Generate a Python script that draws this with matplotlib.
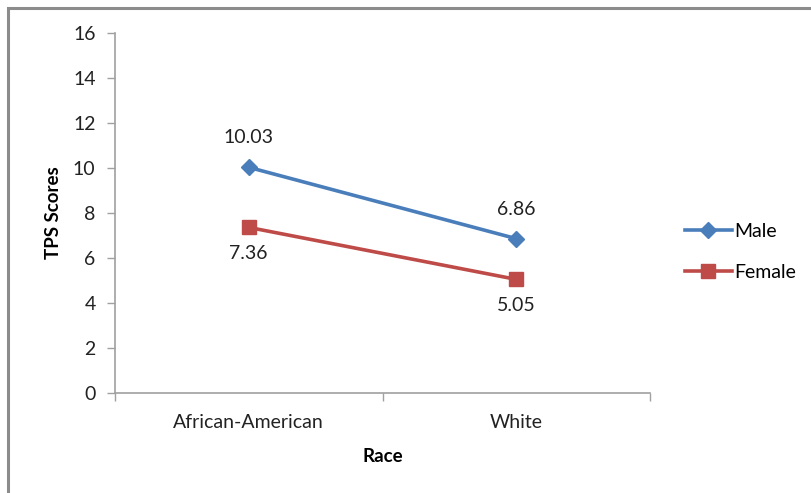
import matplotlib
matplotlib.use("Agg")
import matplotlib.pyplot as plt
from matplotlib.lines import Line2D
from matplotlib.patches import Rectangle

categories = ["African-American", "White"]
male = [10.03, 6.86]
female = [7.36, 5.05]
yticks = [0, 2, 4, 6, 8, 10, 12, 14, 16]

plt.rcParams["font.family"] = ["Lato", "DejaVu Sans"]

fig = plt.figure(figsize=(8.11, 4.93), dpi=100)
ax = fig.add_axes([115 / 811, 1 - 393 / 493, 535 / 811, 360 / 493])

x = list(range(len(categories)))
blue = "#4A7EBB"
red = "#BE4B48"
ax.plot(x, male, color=blue, lw=2.6, marker="D", ms=8, label="Male", zorder=3)
ax.plot(x, female, color=red, lw=2.6, marker="s", ms=10, label="Female", zorder=3)

fs = 14
for xi, v in zip(x, male):
    ax.annotate(f"{v:.2f}", (xi, v), xytext=(0, 15), textcoords="offset points",
                ha="center", va="bottom", fontsize=fs, color="#222222")
for xi, v in zip(x, female):
    ax.annotate(f"{v:.2f}", (xi, v), xytext=(0, -13), textcoords="offset points",
                ha="center", va="top", fontsize=fs, color="#222222")

ax.set_xlim(-0.5, len(categories) - 0.5)
ax.set_ylim(0, 16)
ax.set_yticks(yticks)
ax.set_xticks(x)
ax.set_xticklabels(categories)
ax.set_xticks([i - 0.5 for i in range(len(categories) + 1)], minor=True)
ax.tick_params(axis="x", which="major", length=0, pad=15, labelsize=fs, labelcolor="#222222")
ax.tick_params(axis="x", which="minor", length=6, color="#A0A0A0", width=1)
ax.tick_params(axis="y", length=6, color="#A0A0A0", width=1, pad=8, labelsize=fs, labelcolor="#222222")

for s in ["top", "right"]:
    ax.spines[s].set_visible(False)
for s in ["left", "bottom"]:
    ax.spines[s].set_color("#A0A0A0")
    ax.spines[s].set_linewidth(1.2)

ax.set_ylabel("TPS Scores", fontsize=13.5, fontweight="bold", labelpad=8)
ax.set_xlabel("Race", fontsize=13.5, fontweight="bold", labelpad=12)

handles = [
    Line2D([], [], color=blue, lw=2.6, marker="D", ms=8),
    Line2D([], [], color=red, lw=2.6, marker="s", ms=10),
]
fig.legend(handles, ["Male", "Female"], loc="center left", bbox_to_anchor=(0.823, 0.489),
           frameon=False, fontsize=fs, handlelength=2.4, handletextpad=0.12,
           labelspacing=1.2)

fig.patches.append(Rectangle((8 / 811, -0.1), 1.2, 1 - 8 / 493 + 0.1, transform=fig.transFigure,
                             fill=False, edgecolor="#8C8C8C", lw=2.2))

fig.savefig("out.png", dpi=100)
